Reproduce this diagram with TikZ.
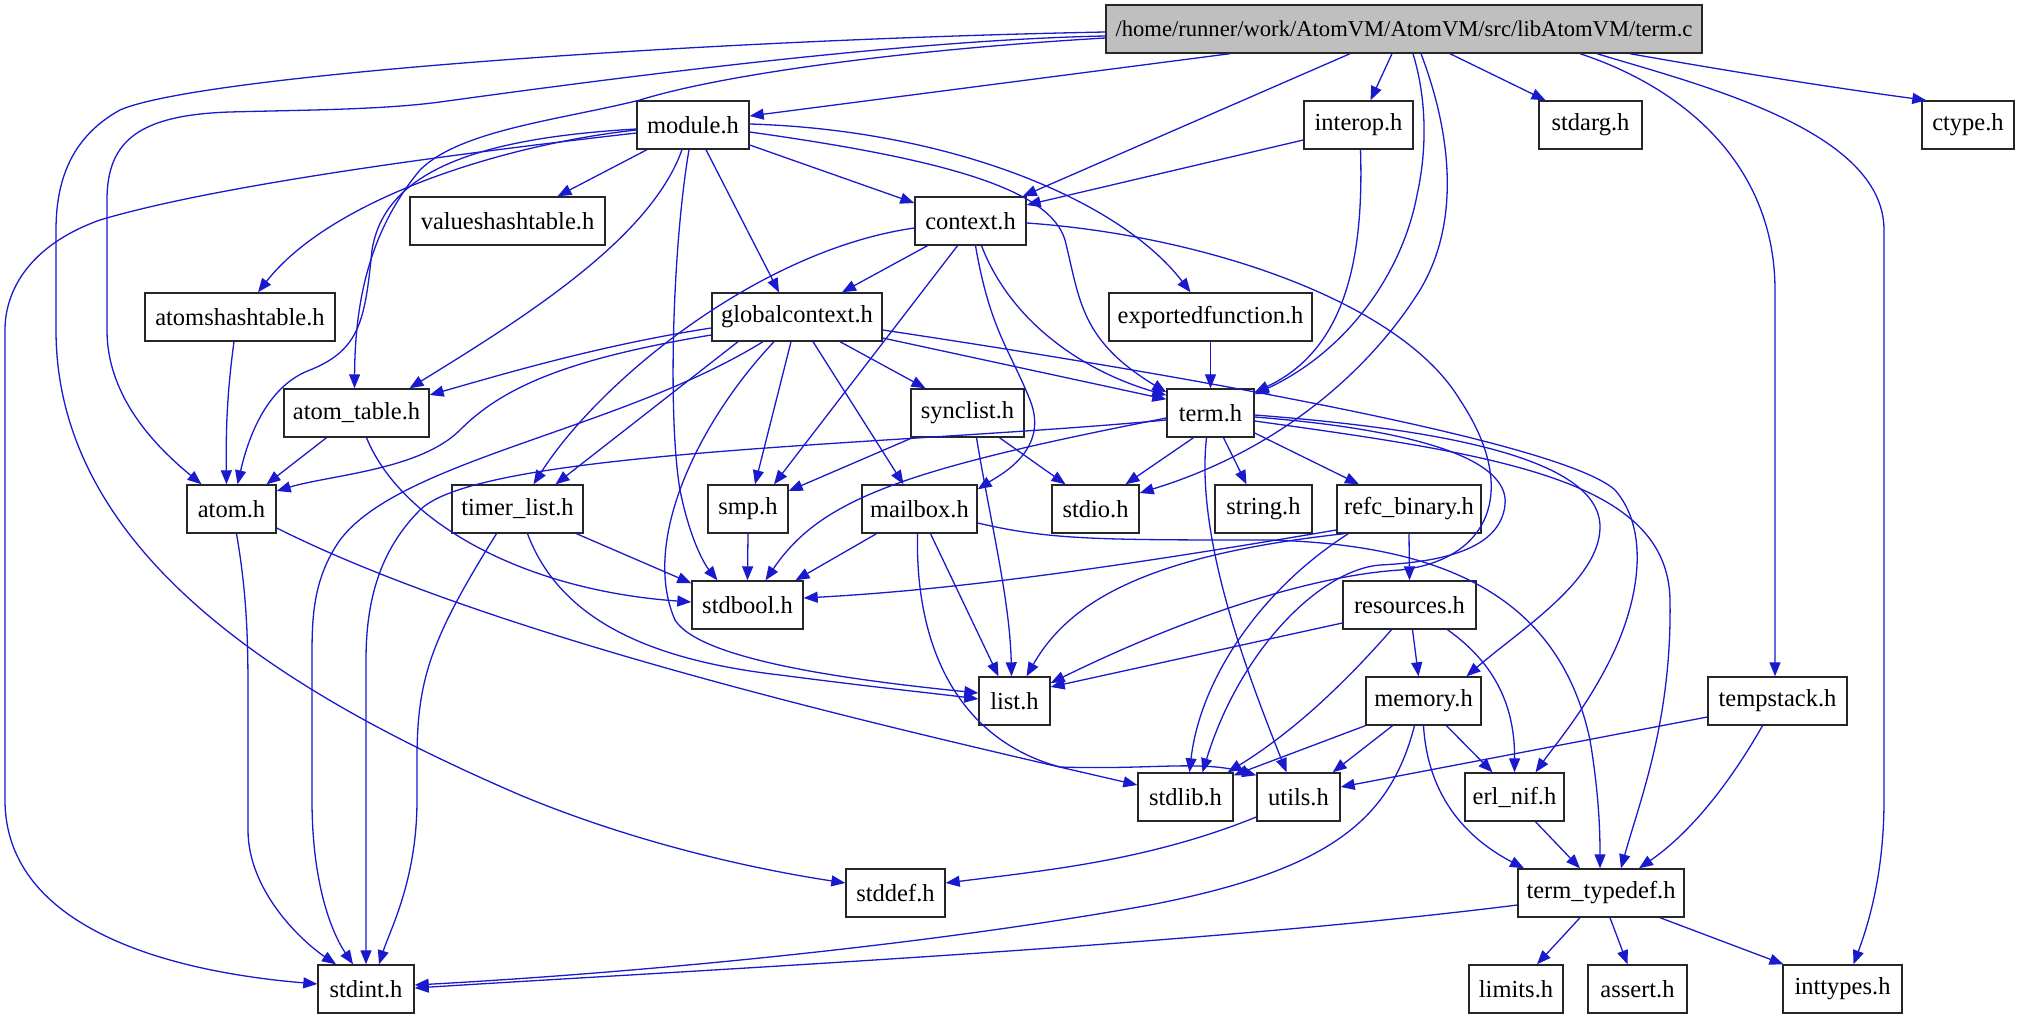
\documentclass[tikz,border=0pt]{standalone}
\usepackage{fontspec}
\setmainfont{Liberation Serif}
\usetikzlibrary{arrows.meta}
\definecolor{edgeblue}{RGB}{25,25,205}
\definecolor{maingray}{RGB}{191,191,191}
\begin{document}
\begin{tikzpicture}[x=1pt,y=-1pt,
  box/.style={draw=black!85, line width=1.4pt, fill=white, minimum height=48pt, inner xsep=2pt, inner ysep=0pt, font=\fontsize{24.5}{28}\selectfont},
  e/.style={draw=edgeblue, line width=1.3pt, -{Triangle[length=14pt,width=11pt]}}]
\useasboundingbox (0,0) rectangle (2019,1019);
% nodes
\node[box, fill=maingray, minimum width=596pt, font=\fontsize{22.6}{27}\selectfont] (main) at (1404,29) {/home/runner/work/AtomVM/AtomVM/src/libAtomVM/term.c};
\node[box, minimum width=112pt] (module) at (693,125) {module.h};
\node[box, minimum width=109pt] (interop) at (1358.5,125) {interop.h};
\node[box, minimum width=103pt] (stdarg) at (1590.5,125) {stdarg.h};
\node[box, minimum width=92pt] (ctype) at (1968,125) {ctype.h};
\node[box, minimum width=195pt] (valueshashtable) at (507.5,221) {valueshashtable.h};
\node[box, minimum width=111pt] (context) at (970.5,221) {context.h};
\node[box, minimum width=190pt] (atomshashtable) at (240,317) {atomshashtable.h};
\node[box, minimum width=170pt] (globalcontext) at (797,317) {globalcontext.h};
\node[box, minimum width=203pt] (exportedfunction) at (1210.5,317) {exportedfunction.h};
\node[box, minimum width=145pt] (atomtable) at (356.5,413) {atom\_table.h};
\node[box, minimum width=113pt] (synclist) at (967.5,413) {synclist.h};
\node[box, minimum width=87pt] (term) at (1210.5,413) {term.h};
\node[box, minimum width=89pt] (atom) at (231.5,509) {atom.h};
\node[box, minimum width=131pt] (timerlist) at (517.5,509) {timer\_list.h};
\node[box, minimum width=80pt] (smp) at (748,509) {smp.h};
\node[box, minimum width=115pt] (mailbox) at (919.5,509) {mailbox.h};
\node[box, minimum width=87pt] (stdio) at (1095.5,509) {stdio.h};
\node[box, minimum width=97pt] (string) at (1263.5,509) {string.h};
\node[box, minimum width=144pt] (refcbinary) at (1409,509) {refc\_binary.h};
\node[box, minimum width=111pt] (stdbool) at (747.5,605) {stdbool.h};
\node[box, minimum width=133pt] (resources) at (1409.5,605) {resources.h};
\node[box, minimum width=71pt] (list) at (1014.5,701) {list.h};
\node[box, minimum width=115pt] (memory) at (1423.5,701) {memory.h};
\node[box, minimum width=139pt] (tempstack) at (1777.5,701) {tempstack.h};
\node[box, minimum width=95pt] (stdlib) at (1185.5,797) {stdlib.h};
\node[box, minimum width=83pt] (utils) at (1298.5,797) {utils.h};
\node[box, minimum width=99pt] (erlnif) at (1514.5,797) {erl\_nif.h};
\node[box, minimum width=99pt] (stddef) at (895.5,893) {stddef.h};
\node[box, minimum width=166pt] (termtypedef) at (1601,893) {term\_typedef.h};
\node[box, minimum width=96pt] (stdint) at (366,989) {stdint.h};
\node[box, minimum width=94pt] (limits) at (1516,989) {limits.h};
\node[box, minimum width=99pt] (assert) at (1637.5,989) {assert.h};
\node[box, minimum width=119pt] (inttypes) at (1842.5,989) {inttypes.h};
% main
\draw[e] ([xshift=-174pt]main.south) -- ([yshift=9pt]module.east);
\draw[e] ([xshift=-54pt]main.south) -- ([xshift=-4pt]context.north east);
\draw[e] ([xshift=-12pt]main.south) -- ([xshift=12pt]interop.north);
\draw[e] ([xshift=9pt]main.south) .. controls (1427,100) and (1427,150) .. (1417,195) .. controls (1403,270) and (1350,350) .. ([yshift=-6pt]term.north east);
\draw[e] ([xshift=17pt]main.south) .. controls (1450,130) and (1462,220) .. (1420,290) .. controls (1370,370) and (1280,450) .. ([yshift=16pt]stdio.east);
\draw[e] ([xshift=46pt]main.south) -- ([xshift=-45pt]stdarg.north);
\draw[e] ([xshift=226pt]main.south) .. controls (1750,75) and (1850,90) .. ([xshift=5pt]ctype.north west);
\draw[e] ([xshift=176pt]main.south) .. controls (1690,90) and (1775,170) .. (1775,290) -- ([xshift=-2.5pt]tempstack.north);
\draw[e] ([xshift=193pt]main.south) .. controls (1700,85) and (1884,130) .. (1884,230) -- (1884,800) .. controls (1884,870) and (1870,920) .. ([xshift=11pt]inttypes.north);
\draw[e] ([yshift=-3pt]main.west) .. controls (700,40) and (200,75) .. (120,110) .. controls (75,135) and (56,175) .. (56,230) -- (56,330) .. controls (56,560) and (300,700) .. (520,795) .. controls (640,845) and (760,870) .. ([yshift=10pt]stddef.west);
\draw[e] ([yshift=-7pt]main.west) .. controls (900,40) and (600,80) .. (440,102) .. controls (380,110) and (300,110) .. (230,112) .. controls (140,115) and (107,140) .. (107,200) -- (107,330) .. controls (107,400) and (160,450) .. ([xshift=-30pt]atom.north);
\draw[e] ([yshift=-9pt]main.west) .. controls (900,50) and (720,75) .. (640,100) .. controls (560,120) and (460,130) .. (420,170) .. controls (370,230) and (355,300) .. ([xshift=-2pt]atomtable.north);
% module
\draw[e] ([yshift=-8pt]module.west) .. controls (400,160) and (200,190) .. (100,220) .. controls (30,245) and (5,290) .. (5,330) -- (5,800) .. controls (5,920) and (150,970) .. ([yshift=5pt]stdint.west);
\draw[e] ([yshift=-4pt]module.west) .. controls (480,138) and (385,170) .. (372,250) .. controls (365,320) and (360,350) .. (310,370) .. controls (270,385) and (250,430) .. ([xshift=6pt]atom.north);
\draw[e] ([yshift=-5pt]module.west) .. controls (500,145) and (330,200) .. ([xshift=18pt]atomshashtable.north);
\draw[e] ([xshift=-46pt]module.south) -- ([xshift=50pt]valueshashtable.north);
\draw[e] ([xshift=-11pt]module.south) .. controls (650,240) and (520,320) .. ([xshift=53pt]atomtable.north);
\draw[e] ([xshift=-4pt]module.south) .. controls (672,250) and (668,420) .. (680,490) .. controls (690,540) and (705,565) .. ([xshift=-30pt]stdbool.north);
\draw[e] ([xshift=13pt]module.south) -- ([xshift=-18pt]globalcontext.north);
\draw[e] ([yshift=-20pt]module.east) -- ([yshift=18pt]context.west);
\draw[e] ([yshift=-7pt]module.east) .. controls (950,160) and (1050,190) .. (1065,240) .. controls (1080,300) and (1080,340) .. ([yshift=-4pt]term.north west);
\draw[e] ([yshift=1pt]module.east) .. controls (950,130) and (1120,200) .. ([xshift=-20pt]exportedfunction.north);
% interop
\draw[e] ([yshift=-15pt]interop.west) -- ([yshift=16pt]context.east);
\draw[e] ([xshift=2pt]interop.south) .. controls (1364,260) and (1345,350) .. ([yshift=-4pt]term.north east);
% context
\draw[e] ([xshift=-43pt]context.south) -- ([xshift=45pt]globalcontext.north);
\draw[e] ([yshift=-7pt]context.west) .. controls (760,250) and (600,380) .. ([xshift=16pt]timerlist.north);
\draw[e] ([xshift=-13pt]context.south) -- ([xshift=26pt]smp.north);
\draw[e] ([xshift=5pt]context.south) .. controls (990,330) and (1010,350) .. (1030,400) .. controls (1050,450) and (1000,475) .. ([yshift=-5pt]mailbox.north east);
\draw[e] ([xshift=11pt]context.south) .. controls (1010,320) and (1080,370) .. ([yshift=-7pt]term.north west);
\draw[e] ([yshift=-2pt]context.east) .. controls (1200,235) and (1400,300) .. (1460,400) .. controls (1520,490) and (1490,560) .. (1400,570) .. controls (1320,575) and (1200,610) .. ([yshift=18pt]list.east);
% globalcontext
\draw[e] ([yshift=-11pt]globalcontext.west) .. controls (600,345) and (500,375) .. ([yshift=18pt]atomtable.east);
\draw[e] ([yshift=-18pt]globalcontext.west) .. controls (560,360) and (500,390) .. (460,430) .. controls (420,470) and (330,475) .. ([yshift=18pt]atom.east);
\draw[e] ([xshift=-34pt]globalcontext.south) .. controls (620,430) and (400,460) .. (340,540) .. controls (312,580) and (312,620) .. (312,660) -- (312,800) .. controls (312,880) and (330,930) .. ([xshift=-13pt]stdint.north);
\draw[e] ([xshift=-59pt]globalcontext.south) -- ([xshift=38pt]timerlist.north);
\draw[e] ([xshift=-23pt]globalcontext.south) .. controls (700,420) and (640,540) .. (675,620) .. controls (700,660) and (850,680) .. ([yshift=8pt]list.west);
\draw[e] ([xshift=-6pt]globalcontext.south) -- ([xshift=7pt]smp.north);
\draw[e] ([xshift=16pt]globalcontext.south) -- ([xshift=-16pt]mailbox.north);
\draw[e] ([xshift=43pt]globalcontext.south) -- ([xshift=-42pt]synclist.north);
\draw[e] ([yshift=-21pt]globalcontext.east) -- ([yshift=-11pt]term.north west);
\draw[e] ([yshift=-13pt]globalcontext.east) .. controls (1150,370) and (1560,440) .. (1615,490) .. controls (1650,530) and (1640,600) .. (1610,660) .. controls (1585,710) and (1555,745) .. ([xshift=21pt]erlnif.north);
% misc
\draw[e] ([xshift=-6pt]atomshashtable.south) .. controls (226,400) and (226,440) .. ([xshift=-5pt]atom.north);
\draw[e] (exportedfunction.south) -- (term.north);
\draw[e] ([xshift=-30pt]atomtable.south) -- ([xshift=35pt]atom.north);
\draw[e] ([xshift=10pt]atomtable.south) .. controls (400,520) and (520,590) .. ([yshift=3pt]stdbool.west);
\draw[e] ([xshift=-55pt]synclist.south) -- ([yshift=18pt]smp.east);
\draw[e] ([xshift=32pt]synclist.south) -- ([xshift=-30pt]stdio.north);
\draw[e] ([xshift=9pt]synclist.south) .. controls (990,520) and (1010,600) .. ([xshift=-3pt]list.north);
% term
\draw[e] ([yshift=-7pt]term.west) .. controls (900,445) and (480,450) .. (420,510) .. controls (380,550) and (366,600) .. (366,660) -- (stdint.north);
\draw[e] ([yshift=-5pt]term.west) .. controls (900,470) and (820,500) .. ([xshift=18pt]stdbool.north);
\draw[e] ([xshift=-17pt]term.south) -- ([xshift=30pt]stdio.north);
\draw[e] ([xshift=13pt]term.south) -- ([xshift=-17pt]string.north);
\draw[e] ([yshift=-20pt]term.east) -- ([xshift=-50pt]refcbinary.north);
\draw[e] ([xshift=-4pt]term.south) .. controls (1195,540) and (1250,680) .. ([xshift=-12pt]utils.north);
\draw[e] ([yshift=-4pt]term.east) .. controls (1420,430) and (1510,460) .. (1505,505) .. controls (1500,550) and (1440,562) .. (1380,565) .. controls (1320,570) and (1240,650) .. ([xshift=17pt]stdlib.north);
\draw[e] ([yshift=-2pt]term.east) .. controls (1450,430) and (1600,460) .. (1600,527) .. controls (1600,580) and (1520,630) .. ([xshift=43pt]memory.north);
\draw[e] ([yshift=-8pt]term.east) .. controls (1500,455) and (1668,480) .. (1670,600) .. controls (1672,720) and (1640,800) .. ([xshift=20pt]termtypedef.north);
% atom
\draw[e] ([xshift=5pt]atom.south) .. controls (248,600) and (248,650) .. (248,700) -- (248,830) .. controls (248,890) and (300,940) .. ([xshift=-30pt]stdint.north);
\draw[e] ([yshift=-19pt]atom.east) .. controls (500,640) and (900,730) .. ([yshift=12pt]stdlib.west);
% timer_list
\draw[e] ([xshift=59pt]timerlist.south) -- ([yshift=-3pt]stdbool.north west);
\draw[e] ([xshift=10pt]timerlist.south) .. controls (560,620) and (650,660) .. (780,675) .. controls (880,688) and (940,694) .. ([yshift=2pt]list.west);
\draw[e] ([xshift=-21pt]timerlist.south) .. controls (430,640) and (417,680) .. (417,760) -- (417,800) .. controls (417,880) and (390,930) .. ([xshift=13pt]stdint.north);
% smp
\draw[e] (smp.south) -- (stdbool.north);
% mailbox
\draw[e] ([xshift=-43pt]mailbox.south) -- ([xshift=48pt]stdbool.north);
\draw[e] ([xshift=11pt]mailbox.south) -- ([xshift=-16pt]list.north);
\draw[e] ([xshift=-2pt]mailbox.south) .. controls (915,650) and (960,740) .. (1060,767) .. controls (1150,770) and (1200,760) .. ([yshift=-3pt]utils.north west);
\draw[e] ([yshift=-14pt]mailbox.east) .. controls (1050,540) and (1100,540) .. (1270,540) .. controls (1450,545) and (1560,600) .. (1590,740) .. controls (1600,800) and (1600,840) .. ([xshift=-1pt]termtypedef.north);
% refc_binary
\draw[e] (refcbinary.south) -- (resources.north);
\draw[e] ([xshift=8pt]refcbinary.south west) .. controls (1150,555) and (1070,600) .. ([xshift=12pt]list.north);
\draw[e] ([yshift=-21pt]refcbinary.west) .. controls (1100,570) and (950,590) .. ([yshift=7pt]stdbool.east);
\draw[e] ([xshift=12pt]refcbinary.south west) .. controls (1260,590) and (1200,680) .. ([xshift=4pt]stdlib.north);
% resources
\draw[e] ([xshift=3pt]resources.south) -- ([xshift=-5pt]memory.north);
\draw[e] ([yshift=-18pt]resources.west) -- ([yshift=14pt]list.east);
\draw[e] ([xshift=-18pt]resources.south) .. controls (1330,700) and (1280,740) .. ([xshift=-6pt]stdlib.north east);
\draw[e] ([xshift=38pt]resources.south) .. controls (1490,660) and (1515,700) .. (erlnif.north);
% memory
\draw[e] (memory.south west) -- ([yshift=-3pt]stdlib.north east);
\draw[e] ([xshift=-31pt]memory.south) -- ([xshift=-8pt]utils.north east);
\draw[e] ([xshift=23pt]memory.south) -- ([xshift=-22pt]erlnif.north);
\draw[e] (memory.south) .. controls (1428,800) and (1470,840) .. ([xshift=-77pt]termtypedef.north);
\draw[e] ([xshift=-9pt]memory.south) .. controls (1390,820) and (1330,870) .. (1150,905) .. controls (900,950) and (600,975) .. ([yshift=4pt]stdint.east);
% tempstack
\draw[e] ([yshift=-16pt]tempstack.west) -- ([yshift=10pt]utils.east);
\draw[e] ([xshift=-15pt]tempstack.south) .. controls (1720,800) and (1680,840) .. ([xshift=38pt]termtypedef.north);
% utils, erl_nif
\draw[e] ([yshift=-20pt]utils.west) .. controls (1150,860) and (1050,870) .. ([yshift=10pt]stddef.east);
\draw[e] ([xshift=21pt]erlnif.south) -- ([xshift=-21pt]termtypedef.north);
% term_typedef
\draw[e] ([yshift=-12pt]termtypedef.west) .. controls (1200,945) and (700,970) .. ([yshift=1pt]stdint.east);
\draw[e] ([xshift=-21pt]termtypedef.south) -- ([xshift=21pt]limits.north);
\draw[e] ([xshift=9pt]termtypedef.south) -- ([xshift=-10pt]assert.north);
\draw[e] ([xshift=59pt]termtypedef.south) -- ([xshift=-59pt]inttypes.north);
\end{tikzpicture}
\end{document}
